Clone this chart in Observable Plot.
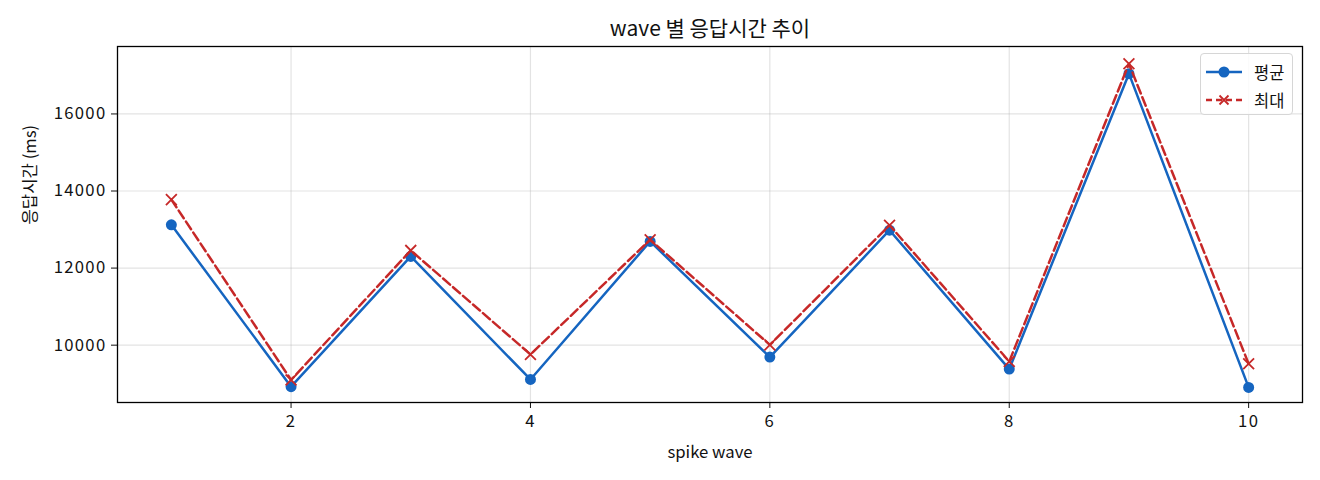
<!DOCTYPE html>
<html>
<head>
<meta charset="utf-8">
<script src="https://cdn.jsdelivr.net/npm/d3@7"></script>
<script src="https://cdn.jsdelivr.net/npm/@observablehq/plot@0.6"></script>
<style>
  html, body { margin: 0; padding: 0; background: #fff; }
  #wrap { position: relative; width: 1320px; height: 480px; font-family: 'Noto Sans CJK KR', 'Noto Sans', sans-serif; }
  #wrap g[aria-label="y-axis tick label"] text, #wrap g[aria-label="x-axis tick label"] text { letter-spacing: 1.3px; }
  #legend { position: absolute; left: 1200px; top: 53px; width: 93px; height: 62px; border: 1px solid #d6d6d6; border-radius: 4px; background: rgba(255,255,255,0.85); box-sizing: border-box; }
  .lg-row { position: absolute; left: 4px; height: 20px; display: flex; align-items: center; }
  .lg-row span { font-size: 16.5px; color: #111; margin-left: 11px; line-height: 20px; }
</style>
</head>
<body>
<div id="wrap"></div>
<script>
const waves = [1, 2, 3, 4, 5, 6, 7, 8, 9, 10];
const avgMs = [13122, 8923, 12303, 9110, 12691, 9690, 12983, 9379, 17045, 8904];
const maxMs = [13777, 9098, 12458, 9759, 12735, 10008, 13112, 9576, 17304, 9516];
const xTicks = [2, 4, 6, 8, 10];
const yTicks = [10000, 12000, 14000, 16000];
const seriesNames = ["평균", "최대"];
const titleText = "wave 별 응답시간 추이";
const xLabel = "spike wave";
const yLabel = "응답시간 (ms)";

const blue = "#1565c0";
const red = "#c62828";

const avgData = waves.map((w, i) => ({wave: w, ms: avgMs[i]}));
const maxData = waves.map((w, i) => ({wave: w, ms: maxMs[i]}));

const chart = Plot.plot({
  width: 1320,
  height: 480,
  marginLeft: 117,
  marginRight: 18,
  marginTop: 46,
  marginBottom: 78,
  style: {fontFamily: "'Noto Sans CJK KR', 'Noto Sans', sans-serif", fontSize: "16.7px", background: "white", color: "#111"},
  x: {domain: [0.55, 10.45], ticks: xTicks, tickSize: 6, tickPadding: 7, label: null, tickFormat: d => String(d)},
  y: {domain: [8512, 17750], ticks: yTicks, tickSize: 6, tickPadding: 5, label: null, tickFormat: d => String(d)},
  marks: [
    Plot.ruleY(yTicks, {stroke: "#b0b0b0", strokeOpacity: 0.35, strokeWidth: 1.2}),
    Plot.ruleX(xTicks, {stroke: "#b0b0b0", strokeOpacity: 0.35, strokeWidth: 1.2}),
    Plot.line(avgData, {x: "wave", y: "ms", stroke: blue, strokeWidth: 2.5}),
    Plot.dot(avgData, {x: "wave", y: "ms", fill: blue, r: 5.5}),
    Plot.line(maxData, {x: "wave", y: "ms", stroke: red, strokeWidth: 2.5, strokeDasharray: "9.2,4"}),
    Plot.dot(maxData, {x: "wave", y: "ms", symbol: "times", stroke: red, strokeWidth: 1.8, r: 5}),
    Plot.frame({stroke: "#000", strokeWidth: 1.3}),
    Plot.text([titleText], {frameAnchor: "top", lineAnchor: "middle", dy: -17, fontSize: 21, fill: "#111"}),
    Plot.text([xLabel], {frameAnchor: "bottom", dy: 55, fontSize: 16.7, fill: "#111"}),
    Plot.text([yLabel], {frameAnchor: "left", dx: -87, rotate: -90, fontSize: 16.7, fill: "#111"})
  ]
});

const wrap = document.getElementById("wrap");
wrap.appendChild(chart);

const legend = document.createElement("div");
legend.id = "legend";
const rows = [
  {name: seriesNames[0], color: blue, dash: null, marker: "dot", top: 8},
  {name: seriesNames[1], color: red, dash: "6,4", marker: "x", top: 36}
];
rows.forEach(r => {
  const row = document.createElement("div");
  row.className = "lg-row";
  row.style.top = r.top + "px";
  const ns = "http://www.w3.org/2000/svg";
  const svg = document.createElementNS(ns, "svg");
  svg.setAttribute("width", 38);
  svg.setAttribute("height", 20);
  const ln = document.createElementNS(ns, "line");
  ln.setAttribute("x1", 1); ln.setAttribute("x2", 37);
  ln.setAttribute("y1", 10); ln.setAttribute("y2", 10);
  ln.setAttribute("stroke", r.color); ln.setAttribute("stroke-width", 2.5);
  if (r.dash) ln.setAttribute("stroke-dasharray", r.dash);
  svg.appendChild(ln);
  if (r.marker === "dot") {
    const c = document.createElementNS(ns, "circle");
    c.setAttribute("cx", 19); c.setAttribute("cy", 10); c.setAttribute("r", 5.5);
    c.setAttribute("fill", r.color);
    svg.appendChild(c);
  } else {
    const p = document.createElementNS(ns, "path");
    p.setAttribute("d", "M14.5,5.5L23.5,14.5M14.5,14.5L23.5,5.5");
    p.setAttribute("stroke", r.color); p.setAttribute("stroke-width", 1.8);
    svg.appendChild(p);
  }
  row.appendChild(svg);
  const t = document.createElement("span");
  t.textContent = r.name;
  row.appendChild(t);
  legend.appendChild(row);
});
wrap.appendChild(legend);
</script>
</body>
</html>
